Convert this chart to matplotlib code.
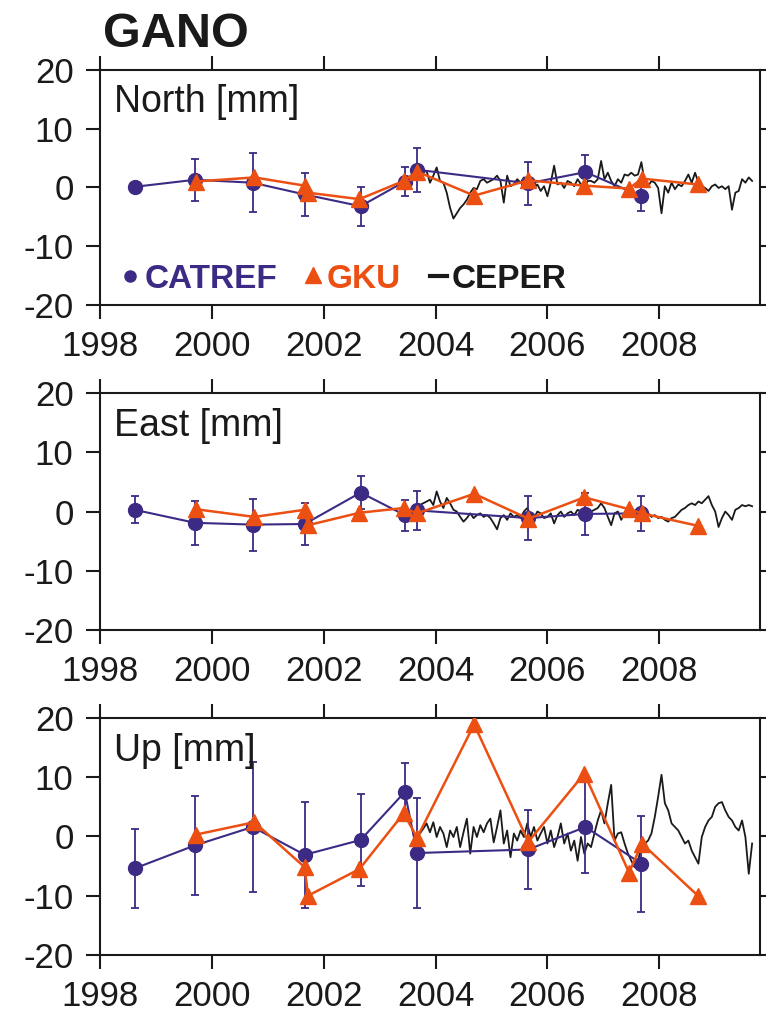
import matplotlib
matplotlib.use('Agg')
import matplotlib.pyplot as plt

plt.rcParams['font.family'] = ['Liberation Sans', 'DejaVu Sans']
plt.rcParams['axes.unicode_minus'] = False

# campaign epochs (decimal years)
catref_t = [1998.62, 1999.70, 2000.73, 2001.66, 2002.66, 2003.45, 2003.67, 2005.66, 2006.68, 2007.68]
gku_t = [1999.71, 2000.76, 2001.66, 2001.72, 2002.64, 2003.43, 2003.67, 2004.69, 2005.66,
         2006.66, 2007.46, 2007.69, 2008.69]

# CATREF solution [mm] with error bars
catref_north = [0.1, 1.3, 0.8, -1.2, -3.2, 1.0, 3.0, 0.7, 2.6, -1.5]
catref_north_err = [0.0, 3.6, 5.0, 3.7, 3.3, 2.4, 3.7, 3.7, 2.9, 2.6]
catref_east = [0.3, -1.9, -2.2, -2.1, 3.2, -0.6, 0.2, -1.1, -0.4, -0.3]
catref_east_err = [2.3, 3.7, 4.4, 3.5, 2.8, 2.6, 3.3, 3.7, 3.5, 2.9]
catref_up = [-5.4, -1.5, 1.6, -3.1, -0.6, 7.5, -2.8, -2.2, 1.6, -4.6]
catref_up_err = [6.6, 8.4, 11.0, 8.9, 7.8, 4.9, 9.3, 6.7, 7.8, 8.1]

# GKU solution [mm]
gku_north = [1.0, 1.7, 0.3, -0.9, -2.0, 1.1, 2.7, -1.4, 1.2, 0.3, -0.2, 1.5, 0.5]
gku_east = [0.4, -0.9, 0.3, -2.3, -0.2, 0.6, -0.3, 3.0, -1.2, 2.4, 0.4, -0.3, -2.4]
gku_up = [0.3, 2.4, -5.2, -10.0, -5.5, 3.9, -0.2, 18.9, -0.9, 10.6, -6.1, -1.2, -10.0]

# CEPER continuous series
ceper_t = [2003.72, 2003.78, 2003.84, 2003.90, 2003.96, 2004.02, 2004.08, 2004.14, 2004.20, 2004.26,
           2004.32, 2004.38, 2004.44, 2004.50, 2004.56, 2004.62, 2004.68, 2004.74, 2004.80, 2004.86,
           2004.92, 2004.98, 2005.04, 2005.10, 2005.16, 2005.22, 2005.28, 2005.34, 2005.40, 2005.46,
           2005.52, 2005.58, 2005.64, 2005.70, 2005.76, 2005.82, 2005.88, 2005.94, 2006.00, 2006.06,
           2006.12, 2006.18, 2006.24, 2006.30, 2006.36, 2006.42, 2006.48, 2006.54, 2006.60, 2006.66,
           2006.72, 2006.78, 2006.84, 2006.90, 2006.96, 2007.02, 2007.08, 2007.14, 2007.20, 2007.26,
           2007.32, 2007.38, 2007.44, 2007.50, 2007.56, 2007.62, 2007.68, 2007.74, 2007.80, 2007.86,
           2007.92, 2007.98, 2008.04, 2008.10, 2008.16, 2008.22, 2008.28, 2008.34, 2008.40, 2008.46,
           2008.52, 2008.58, 2008.64, 2008.70, 2008.76, 2008.82, 2008.88, 2008.94, 2009.00, 2009.06,
           2009.12, 2009.18, 2009.24, 2009.30, 2009.36, 2009.42, 2009.48, 2009.54, 2009.60, 2009.66]
ceper_north = [2.5, 2.6, 2.8, 0.8, 2.0, 3.4, 1.1, 0.8, -0.9, -3.5,
               -5.3, -4.4, -3.5, -2.9, -2.1, -0.9, -0.1, -0.3, 1.1, 1.4,
               0.8, 1.1, 1.4, 2.0, 1.1, -2.6, 2.0, 0.2, 0.5, 1.4,
               0.8, 1.7, 1.1, 0.8, -0.1, 0.5, -0.6, 0.2, -1.5, 0.8,
               3.7, 0.5, 0.8, -0.1, 1.1, 0.8, 0.2, 1.4, 0.5, -0.1,
               1.1, 1.1, 0.8, 1.4, 4.5, 1.4, 2.5, 1.1, 0.2, 1.4,
               0.8, 2.2, 2.0, 2.5, 2.0, 2.2, 4.3, 0.8, 0.2, 1.1,
               0.8, -0.1, -4.4, 0.2, -0.9, 0.8, -0.3, 0.5, 0.2, 1.1,
               2.2, 0.8, 2.5, 0.8, 0.2, -0.1, -0.6, 0.2, 0.5, -0.1,
               0.2, -0.3, 0.2, -3.8, -0.9, -0.6, 1.4, 0.8, 1.7, 1.1]
ceper_east = [1.1, 1.4, 1.7, 2.0, 1.1, 3.4, 1.7, 0.6, 2.3, 1.4,
              0.3, 0.0, -0.9, -1.7, -1.1, -0.3, -1.1, -0.6, -0.3, -0.9,
              -0.6, -1.1, -2.0, -3.0, -1.1, -0.6, -1.4, -0.3, -0.9, -0.6,
              -1.1, 0.0, 0.6, -0.6, -1.1, 0.0, -0.3, -1.1, -0.9, -0.3,
              -2.0, -0.6, 0.0, -0.9, -0.3, 0.0, -0.6, 0.3, 0.0, -0.3,
              0.0, 0.0, 0.3, 0.6, 1.4, 0.6, -0.9, -2.3, -0.3, 0.0,
              -1.4, -0.3, 0.3, 0.6, 0.0, -0.3, 0.6, -0.6, -0.3, -0.9,
              -0.6, -1.1, -0.9, -1.4, -1.7, -1.1, -0.9, -0.3, 0.3, 0.6,
              1.1, 1.4, 1.1, 1.7, 1.4, 2.0, 2.6, 1.1, 0.0, -2.6,
              -1.1, 0.0, -0.6, -1.4, 0.3, 0.6, 1.1, 0.9, 1.1, 0.9]
ceper_up = [0.5, 1.3, 2.2, 0.7, 2.4, -0.1, 1.6, 0.5, -1.8, 1.0,
            -0.1, 1.6, -1.8, 0.7, 3.0, -2.9, 1.6, -0.1, 1.9, 0.7,
            2.2, 3.0, -1.0, 1.6, 4.4, -1.2, 1.0, -3.5, 0.5, -0.7,
            1.0, -0.1, 2.2, -0.1, 1.6, -0.7, 0.5, 1.6, -1.2, 1.0,
            -1.8, -0.1, 2.2, -1.2, 0.5, -2.4, -0.7, -4.1, -0.1, -2.9,
            -1.2, -1.8, 0.5, 2.7, 4.4, 2.2, 5.6, 8.7, -0.7, 0.5,
            0.7, -1.2, -2.9, -4.1, -5.2, -4.1, -1.8, -1.2, -0.7, 0.5,
            3.3, 6.7, 10.4, 5.6, 4.4, 2.2, 1.6, 1.0, -0.1, -1.2,
            -0.7, -2.4, -3.5, -4.6, -0.1, 1.6, 2.7, 3.3, 5.0, 5.6,
            5.8, 4.4, 3.3, 2.7, 1.6, 1.0, 2.7, -0.1, -6.3, -1.2]

panel_titles = ['North [mm]', 'East [mm]', 'Up [mm]']
x_ticks = [1998, 2000, 2002, 2004, 2006, 2008]
y_ticks = [-20, -10, 0, 10, 20]

PURPLE = '#3d2a84'
ORANGE = '#ec4f12'
INK = '#1a1a1a'

fig = plt.figure(figsize=(7.66, 10.13), dpi=100)
boxes = [[0.1305, 0.699, 0.8616, 0.232],
         [0.1305, 0.378, 0.8616, 0.234],
         [0.1305, 0.0573, 0.8616, 0.234]]

panels = [(ceper_north, catref_north, catref_north_err, gku_north),
          (ceper_east, catref_east, catref_east_err, gku_east),
          (ceper_up, catref_up, catref_up_err, gku_up)]

axes = []
for box, title, (cep, cat, cat_err, gku) in zip(boxes, panel_titles, panels):
    ax = fig.add_axes(box)
    ax.plot(ceper_t, cep, color=INK, lw=1.3, zorder=2)
    ax.errorbar(catref_t, cat, yerr=cat_err, color=PURPLE, marker='o', ms=10,
                lw=1.5, elinewidth=1.3, capsize=3, capthick=1.3, zorder=3)
    ax.plot(gku_t, gku, color=ORANGE, marker='^', ms=11, lw=1.8, zorder=4)

    ax.set_xlim(1998, 2009.8)
    ax.set_ylim(-20, 20)
    ax.set_xticks(x_ticks)
    ax.set_yticks(y_ticks)
    ax.tick_params(direction='out', length=10, width=1.5, labelsize=25,
                   top=True, right=True, colors=INK)
    ax.tick_params(axis='x', pad=8)
    ax.tick_params(axis='y', pad=9)
    for sp in ax.spines.values():
        sp.set_linewidth(1.5)
        sp.set_color(INK)
    ax.text(0.022, 0.82, title, transform=ax.transAxes, fontsize=27,
            va='baseline', ha='left', color=INK)
    axes.append(ax)

# hand made legend in the top panel
ax = axes[0]
ax.plot([0.045], [0.123], 'o', color=PURPLE, ms=8, transform=ax.transAxes)
ax.text(0.068, 0.072, 'CATREF', color=PURPLE, fontsize=24, fontweight='bold',
        va='baseline', transform=ax.transAxes)
ax.plot([0.323], [0.128], '^', color=ORANGE, ms=12, transform=ax.transAxes)
ax.text(0.344, 0.072, 'GKU', color=ORANGE, fontsize=24, fontweight='bold',
        va='baseline', transform=ax.transAxes)
ax.plot([0.5, 0.526], [0.125, 0.125], color=INK, lw=3, transform=ax.transAxes)
ax.text(0.533, 0.072, 'CEPER', color=INK, fontsize=24, fontweight='bold',
        va='baseline', transform=ax.transAxes)

fig.text(0.134, 0.9536, 'GANO', fontsize=35, fontweight='bold', va='baseline', color=INK)

fig.savefig('out.png', dpi=100)
